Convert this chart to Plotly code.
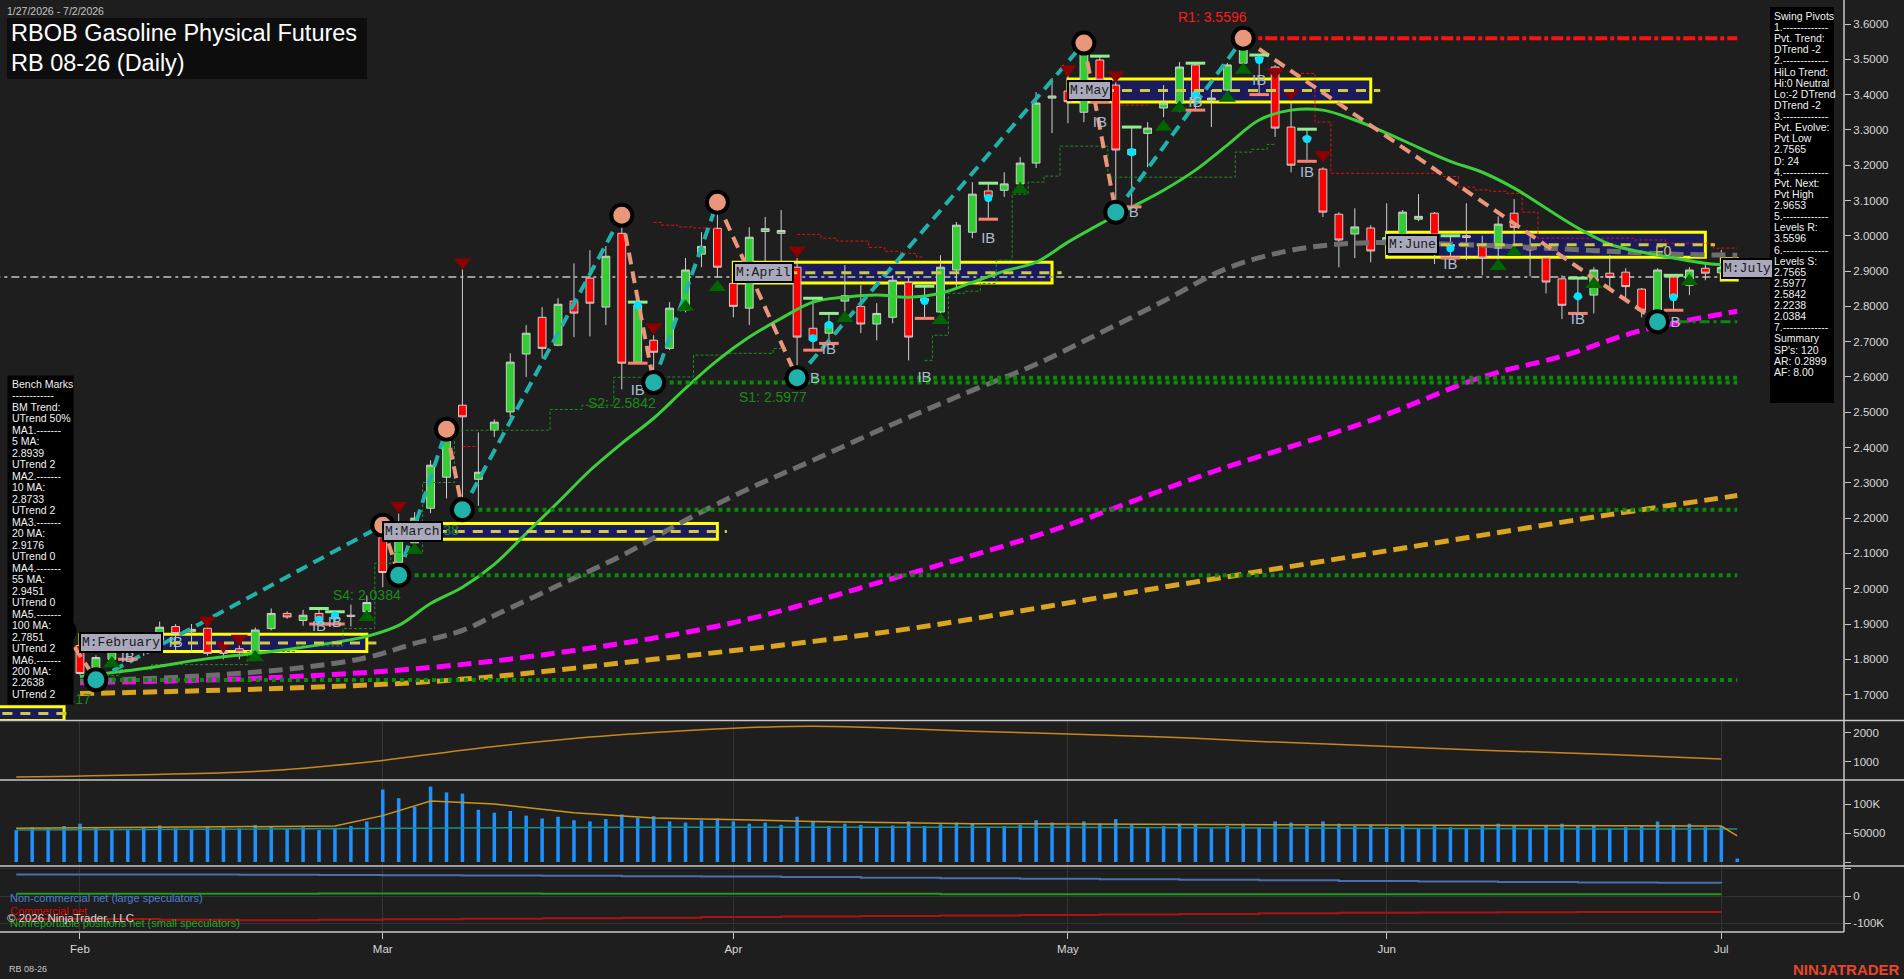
import plotly.graph_objects as go
import pandas as pd

# ---------------- data ----------------
HOLIDAYS = ["2026-02-16", "2026-04-03", "2026-05-25", "2026-06-19"]
DATES = [d.strftime("%Y-%m-%d") for d in pd.bdate_range("2026-01-27", "2026-07-02")
         if d.strftime("%Y-%m-%d") not in HOLIDAYS]

OPEN = [1.80, 1.82, 1.85, 1.84, 1.839, 1.768, 1.80, 1.83, 1.82, 1.854,
        1.893, 1.878, 1.888, 1.823, 1.83, 1.817, 1.887, 1.930, 1.910, 1.930,
        1.915, 1.925, 1.935, 2.145, 2.075, 2.13, 2.228, 2.316, 2.520, 2.31,
        2.449, 2.501, 2.665, 2.769, 2.690, 2.815, 2.880, 2.798, 3.007, 2.642,
        2.704, 2.681, 2.789, 2.948, 3.021, 2.865, 2.795, 3.012, 3.007, 2.911,
        2.738, 2.724, 2.815, 2.800, 2.750, 2.769, 2.868, 2.815, 2.784, 2.903,
        3.010, 3.127, 3.129, 3.147, 3.206, 3.390, 3.410, 3.350, 3.498, 3.427,
        3.230, 3.290, 3.362, 3.376, 3.484, 3.385, 3.413, 3.489, 3.500, 3.478,
        3.308, 3.280, 3.189, 3.061, 3.005, 3.022, 2.980, 2.996, 3.047, 3.064,
        2.970, 3.000, 2.973, 2.965, 3.064, 2.970, 2.937, 2.878, 2.830, 2.832,
        2.894, 2.897, 2.849, 2.769, 2.883, 2.860, 2.908, 2.895, 2.900]
HIGH = [1.83, 1.86, 1.87, 1.88, 1.87, 1.811, 1.84, 1.845, 1.85, 1.907,
        1.90, 1.90, 1.919, 1.84, 1.86, 1.89, 1.944, 1.936, 1.94, 1.944,
        1.935, 1.955, 1.981, 2.18, 2.213, 2.217, 2.364, 2.452, 2.905, 2.443,
        2.48, 2.667, 2.747, 2.798, 2.823, 2.922, 2.959, 2.971, 3.058, 2.812,
        2.718, 2.812, 2.937, 3.010, 3.095, 2.925, 3.024, 3.053, 3.073, 2.937,
        2.823, 2.780, 2.917, 2.860, 2.809, 2.888, 2.882, 2.857, 2.945, 3.039,
        3.152, 3.149, 3.180, 3.223, 3.407, 3.447, 3.461, 3.546, 3.509, 3.461,
        3.308, 3.322, 3.427, 3.492, 3.489, 3.413, 3.490, 3.5596, 3.512, 3.484,
        3.379, 3.302, 3.194, 3.067, 3.078, 3.030, 3.092, 3.073, 3.118, 3.067,
        3.000, 3.092, 3.000, 3.055, 3.104, 2.996, 2.940, 2.888, 2.880, 2.911,
        2.945, 2.908, 2.852, 2.908, 2.888, 2.911, 2.925, 2.960, 2.940]
LOW = [1.78, 1.80, 1.82, 1.83, 1.755, 1.742, 1.79, 1.80, 1.81, 1.834,
       1.825, 1.82, 1.811, 1.80, 1.80, 1.80, 1.882, 1.915, 1.895, 1.90,
       1.90, 1.893, 1.933, 2.004, 2.0384, 2.10, 2.214, 2.256, 2.2238, 2.235,
       2.43, 2.486, 2.60, 2.653, 2.687, 2.713, 2.715, 2.747, 2.565, 2.639,
       2.5842, 2.676, 2.783, 2.911, 2.883, 2.769, 2.747, 2.874, 2.925, 2.5977,
       2.676, 2.695, 2.766, 2.724, 2.704, 2.752, 2.647, 2.766, 2.781, 2.854,
       2.993, 3.047, 3.110, 3.121, 3.192, 3.291, 3.319, 3.322, 3.38, 3.067,
       3.082, 3.194, 3.336, 3.350, 3.356, 3.308, 3.385, 3.461, 3.400, 3.280,
       3.180, 3.211, 3.053, 2.911, 2.937, 2.925, 2.950, 2.960, 3.041, 2.920,
       2.937, 2.931, 2.888, 2.925, 2.975, 2.885, 2.837, 2.764, 2.780, 2.780,
       2.851, 2.817, 2.769, 2.7565, 2.789, 2.832, 2.874, 2.870, 2.870]
CLOSE = [1.82, 1.85, 1.84, 1.86, 1.760, 1.805, 1.83, 1.82, 1.84, 1.891,
         1.873, 1.885, 1.817, 1.817, 1.82, 1.883, 1.930, 1.920, 1.925, 1.910,
         1.920, 1.922, 1.961, 2.046, 2.137, 2.20, 2.350, 2.420, 2.487, 2.33,
         2.472, 2.642, 2.724, 2.681, 2.806, 2.781, 2.809, 2.942, 2.639, 2.803,
         2.670, 2.795, 2.903, 2.970, 2.911, 2.800, 2.996, 3.020, 3.015, 2.713,
         2.704, 2.752, 2.830, 2.750, 2.780, 2.874, 2.713, 2.822, 2.911, 3.030,
         3.118, 3.110, 3.147, 3.206, 3.376, 3.396, 3.380, 3.518, 3.441, 3.243,
         3.245, 3.305, 3.376, 3.478, 3.384, 3.390, 3.484, 3.555, 3.505, 3.305,
         3.200, 3.272, 3.067, 2.988, 3.025, 2.957, 2.995, 3.067, 3.055, 3.002,
         2.975, 2.995, 2.937, 3.033, 3.024, 2.960, 2.869, 2.803, 2.825, 2.903,
         2.882, 2.856, 2.789, 2.903, 2.826, 2.903, 2.894, 2.910, 2.884]
LAST_PRICE = 2.883

# moving averages (bar index, value)
MA20_IDX = [4, 8, 12, 16, 20, 22, 24, 26, 28, 30, 32, 34, 36, 38, 40, 42, 44, 46, 48, 50,
            52, 54, 56, 58, 60, 62, 64, 66, 68, 70, 72, 74, 76, 78, 80, 82, 84, 86, 88, 90,
            92, 94, 96, 98, 100, 102, 104, 106, 108]
MA20_VAL = [1.751, 1.774, 1.802, 1.822, 1.848, 1.865, 1.896, 1.958, 2.004, 2.069, 2.157, 2.245,
            2.335, 2.412, 2.483, 2.568, 2.647, 2.713, 2.766, 2.812, 2.826, 2.832, 2.826, 2.837,
            2.868, 2.900, 2.925, 2.982, 3.033, 3.081, 3.129, 3.186, 3.257, 3.328, 3.356, 3.356,
            3.328, 3.291, 3.250, 3.211, 3.180, 3.135, 3.078, 3.022, 2.976, 2.954, 2.937, 2.922,
            2.915]
MA55_IDX = [4, 12, 18, 22, 25, 28, 30, 34, 38, 42, 46, 50, 55, 60, 64, 68, 72, 76, 80, 84,
            88, 92, 96, 100, 104, 108]
MA55_VAL = [1.738, 1.754, 1.777, 1.805, 1.845, 1.882, 1.924, 2.009, 2.094, 2.194, 2.284, 2.364,
            2.466, 2.562, 2.636, 2.724, 2.815, 2.908, 2.959, 2.979, 2.979, 2.973, 2.965, 2.956,
            2.948, 2.945]
MA100_IDX = [4, 15, 26, 35, 45, 55, 65, 75, 85, 92, 97, 102, 108]
MA100_VAL = [1.734, 1.746, 1.777, 1.825, 1.904, 2.029, 2.165, 2.330, 2.477, 2.600, 2.659, 2.732,
             2.786]
MA200_IDX = [4, 26, 40, 55, 70, 85, 100, 108]
MA200_VAL = [1.703, 1.737, 1.800, 1.880, 1.990, 2.100, 2.210, 2.264]

# swing pivots
SWING_IDX = [3, 5, 23, 24, 27, 28, 38, 40, 44, 49, 67, 69, 77, 103]
SWING_PX = [1.88, 1.742, 2.18, 2.0384, 2.452, 2.2238, 3.058, 2.5842, 3.095, 2.5977, 3.546,
            3.067, 3.5596, 2.7565]
SUPPORT_LEVELS = [1.7417, 2.0384, 2.2238, 2.5842, 2.5977]
SUPPORT_START = [5, 24, 28, 40, 49]
SUPPORT_NAMES = ["S5", "S4", "S3", "S2", "S1"]
R1_LEVEL, R1_START = 3.5596, 77
PIVOT_LOW, PIVOT_LOW_START = 2.7565, 103

# monthly boxes: first bar, last bar, low, high, label
MONTH_BOX_START = [-2, 4, 23, 45, 66, 86, 107]
MONTH_BOX_END = [3.0, 22, 44, 65, 85, 106, 108]
MONTH_BOX_LOW = [1.627, 1.822, 2.140, 2.866, 3.379, 2.939, 2.875]
MONTH_BOX_HIGH = [1.666, 1.871, 2.185, 2.925, 3.444, 3.010, 2.935]
MONTH_BOX_LABEL = ["", "M:February", "M:March", "M:April", "M:May", "M:June", "M:July"]

# markers
DN_TRI_IDX = [12, 13, 14, 24, 28, 40, 49, 66, 69, 79, 80, 82]
DN_TRI_PX = [1.910, 1.839, 1.859, 2.236, 2.925, 2.741, 2.959, 3.472, 3.455, 3.464, 3.404, 3.229]
UP_TRI_IDX = [6, 15, 22, 25, 42, 44, 52, 58, 63, 72, 73, 76, 77, 93, 94, 99, 105]
UP_TRI_PX = [1.788, 1.805, 1.919, 2.109, 2.798, 2.854, 2.766, 2.761, 3.132, 3.308, 3.362, 3.39,
             3.47, 2.914, 2.953, 2.863, 2.871]
IB_IDX = [7, 19, 20, 39, 50, 51, 57, 61, 68, 70, 74, 78, 81, 90, 98, 104]
IB_DOT = [1.84, 1.912, 1.924, 2.803, 2.71, 2.747, 2.815, 3.107, 3.40, 3.237, 3.399, 3.498,
          3.274, 2.965, 2.829, 2.826]
IB_TEXT_IDX = [7, 10, 19, 20, 39, 50, 51, 57, 61, 68, 70, 74, 78, 81, 90, 98, 104]
IB_TEXT_PX = [1.802, 1.845, 1.890, 1.902, 2.559, 2.593, 2.676, 2.596, 2.990, 3.319, 3.064,
              3.376, 3.438, 3.177, 2.917, 2.761, 2.752]

# trailing step lines (start bar, values)
GREEN_STEP_START = [5, 57]
GREEN_STEP_VALS = [
    [1.754, 1.754, 1.771, 1.771, 1.785, 1.785, 1.785, 1.785, 1.785, 1.785, 1.822, 1.822, 1.822,
     1.838, 1.838, 1.838, 1.887, 1.887, 2.072, 2.103, 2.103, 2.301, 2.301, 2.449, 2.449, 2.449,
     2.449, 2.449, 2.449, 2.508, 2.508, 2.52, 2.52, 2.599, 2.599, 2.599, 2.60, 2.60, 2.662,
     2.662, 2.667, 2.667, 2.667, 2.681],
    [2.647, 2.718, 2.837, 2.843, 2.865, 2.931, 3.118, 3.152, 3.169, 3.254, 3.254, 3.254, 3.166,
     3.166, 3.166, 3.166, 3.166, 3.166, 3.166, 3.166, 3.237, 3.245, 3.259]]
RED_STEP_START = [28, 40, 49, 69, 80]
RED_STEP_VALS = [
    [2.403, 2.403],
    [3.038, 3.03, 3.025, 3.022, 3.022],
    [3.004, 3.004, 2.993, 2.985, 2.985, 2.967, 2.956, 2.95, 2.94],
    [3.37, 3.37, 3.37],
    [3.46, 3.46, 3.322, 3.177, 3.177, 3.177, 3.177, 3.177, 3.177, 3.177, 3.168, 3.138, 3.13,
     3.126, 3.12, 3.067, 2.993, 2.993, 2.993, 2.993, 2.993, 2.993, 2.988, 2.988, 2.979, 2.979,
     2.979, 2.965, 2.965]]

# lower panels
PANEL2_IDX = [0, 8, 16, 23, 28, 34, 40, 45, 50, 55, 60, 66, 72, 78, 85, 92, 100, 107]
PANEL2_VAL = [480, 560, 700, 1050, 1400, 1750, 2000, 2150, 2220, 2150, 2050, 1950, 1850, 1700,
              1550, 1400, 1250, 1100]
VOLUME = [55000, 60000, 58000, 62000, 66000, 60000, 57000, 55000, 60000, 63000,
          58000, 56000, 62000, 60000, 58000, 64000, 61000, 57000, 60000, 55000,
          58000, 62000, 70000, 125000, 110000, 95000, 130000, 120000, 118000, 90000,
          85000, 88000, 80000, 75000, 78000, 72000, 70000, 74000, 82000, 76000,
          79000, 70000, 68000, 72000, 75000, 70000, 66000, 68000, 64000, 78000,
          70000, 62000, 66000, 64000, 60000, 63000, 70000, 62000, 65000, 68000,
          66000, 60000, 62000, 64000, 72000, 68000, 63000, 70000, 66000, 74000,
          64000, 60000, 62000, 66000, 64000, 58000, 62000, 66000, 60000, 70000,
          68000, 62000, 70000, 66000, 62000, 64000, 60000, 63000, 58000, 62000,
          60000, 58000, 62000, 66000, 62000, 58000, 64000, 66000, 62000, 64000,
          58000, 60000, 62000, 70000, 64000, 66000, 60000, 62000, 6000]
VOL_AVG_IDX = [0, 10, 20, 23, 26, 30, 35, 40, 50, 60, 70, 80, 90, 100, 107, 108]
VOL_AVG_VAL = [58000, 60000, 62000, 80000, 105000, 100000, 85000, 76000, 70000, 66000, 65000,
               65000, 63000, 63000, 62000, 45000]
OI_IDX = [0, 20, 40, 60, 80, 100, 108]
OI_VAL = [55000, 57000, 60000, 60000, 58000, 57000, 57000]

COT_IDX = [0, 4, 9, 14, 19, 23, 28, 33, 38, 43, 48, 53, 58, 63, 68, 73, 78, 83, 88, 93, 98,
           103, 107]
COT_NONCOMM = [80000, 80000, 80000, 79000, 78000, 77000, 76000, 75000, 73000, 72000, 70000,
               68000, 66000, 64000, 62000, 60000, 58000, 56000, 54000, 52000, 50000, 49000,
               48000]
COT_COMM = [-85000, -85000, -88000, -90000, -88000, -86000, -84000, -82000, -80000, -78000,
            -76000, -74000, -72000, -70000, -68000, -66000, -64000, -62000, -61000, -60000,
            -59000, -59000, -59000]
COT_SMALL = [8000, 8000, 8000, 8000, 9000, 9000, 9000, 8000, 8000, 8000, 8000, 8000, 7000,
             7000, 7000, 7000, 7000, 7000, 7000, 7000, 7000, 7000, 7000]

BENCH_LINES = ["Bench Marks", "------------", "BM Trend:", "UTrend 50%", "MA1.-------", "5 MA:",
               "2.8939", "UTrend 2", "MA2.-------", "10 MA:", "2.8733", "UTrend 2",
               "MA3.-------", "20 MA:", "2.9176", "UTrend 0", "MA4.-------", "55 MA:", "2.9451",
               "UTrend 0", "MA5.-------", "100 MA:", "2.7851", "UTrend 2", "MA6.-------",
               "200 MA:", "2.2638", "UTrend 2"]
SWING_LINES = ["Swing Pivots", "1.-------------", "Pvt. Trend:", "DTrend -2", "2.-------------",
               "HiLo Trend:", "Hi:0 Neutral", "Lo:-2 DTrend", "DTrend -2", "3.-------------",
               "Pvt. Evolve:", "Pvt Low", "2.7565", "D: 24", "4.-------------", "Pvt. Next:",
               "Pvt High", "2.9653", "5.-------------", "Levels R:", "3.5596", "6.-------------",
               "Levels S:", "2.7565", "2.5977", "2.5842", "2.2238", "2.0384", "7.-------------",
               "Summary", "SP's: 120", "AR: 0.2899", "AF: 8.00"]

MONTH_TICKS = ["2026-02-02", "2026-03-02", "2026-04-01", "2026-05-01", "2026-06-01", "2026-07-01"]
MONTH_TEXT = ["Feb", "Mar", "Apr", "May", "Jun", "Jul"]

# ---------------- layout helpers ----------------
W, H = 1844.0, 932.0          # plot area in pixels
BG = "#1e1e1e"
FONT = "Liberation Sans, Arial, sans-serif"
MONO = "Liberation Mono, Courier New, monospace"
N = len(DATES)


def px(x):
    return x / W


def py(y):
    return 1 - y / H


def D(i):
    return DATES[i]


fig = go.Figure()

# candles
fig.add_trace(go.Candlestick(
    x=DATES, open=OPEN, high=HIGH, low=LOW, close=CLOSE,
    increasing=dict(fillcolor="#32cd32", line=dict(color="#cfcfcf", width=1)),
    decreasing=dict(fillcolor="#ff0000", line=dict(color="#cfcfcf", width=1)),
    whiskerwidth=0, showlegend=False, xaxis="x", yaxis="y", hoverinfo="skip"))

# step lines
for start, vals in zip(GREEN_STEP_START, GREEN_STEP_VALS):
    fig.add_trace(go.Scatter(x=[D(start + k) for k in range(len(vals))], y=vals, mode="lines",
                             line=dict(color="#1f8f1f", width=1, dash="3px,2px", shape="hvh"),
                             showlegend=False, hoverinfo="skip"))
for start, vals in zip(RED_STEP_START, RED_STEP_VALS):
    fig.add_trace(go.Scatter(x=[D(start + k) for k in range(len(vals))], y=vals, mode="lines",
                             line=dict(color="#e01010", width=1, dash="3px,2px", shape="hvh"),
                             showlegend=False, hoverinfo="skip"))

# moving averages
fig.add_trace(go.Scatter(x=[D(i) for i in MA200_IDX], y=MA200_VAL, mode="lines",
                         line=dict(color="#daa520", width=5, dash="14px,7px", shape="spline"),
                         showlegend=False, hoverinfo="skip"))
fig.add_trace(go.Scatter(x=[D(i) for i in MA100_IDX], y=MA100_VAL, mode="lines",
                         line=dict(color="#ff00ff", width=5, dash="14px,7px", shape="spline"),
                         showlegend=False, hoverinfo="skip"))
fig.add_trace(go.Scatter(x=[D(i) for i in MA55_IDX], y=MA55_VAL, mode="lines",
                         line=dict(color="#6e6e6e", width=5, dash="14px,7px", shape="spline"),
                         showlegend=False, hoverinfo="skip"))
fig.add_trace(go.Scatter(x=[D(i) for i in MA20_IDX], y=MA20_VAL, mode="lines",
                         line=dict(color="#3ccf3c", width=3, shape="spline"),
                         showlegend=False, hoverinfo="skip"))

# support / resistance levels
for lvl, st in zip(SUPPORT_LEVELS, SUPPORT_START):
    fig.add_trace(go.Scatter(x=[D(st), D(N - 1)], y=[lvl, lvl], mode="lines",
                             line=dict(color="#0a8a0a", width=4, dash="4px,4px"),
                             showlegend=False, hoverinfo="skip"))
fig.add_trace(go.Scatter(x=[D(PIVOT_LOW_START), D(N - 1)], y=[PIVOT_LOW, PIVOT_LOW],
                         mode="lines", line=dict(color="#0a8a0a", width=3,
                                                 dash="10px,4px,3px,4px"),
                         showlegend=False, hoverinfo="skip"))
fig.add_trace(go.Scatter(x=[D(R1_START), D(N - 1)], y=[R1_LEVEL, R1_LEVEL], mode="lines",
                         line=dict(color="#ff1010", width=4, dash="12px,3px,4px,3px"),
                         showlegend=False, hoverinfo="skip"))

# swing legs
for k in range(len(SWING_IDX) - 1):
    up = SWING_PX[k + 1] > SWING_PX[k]
    fig.add_trace(go.Scatter(x=[D(SWING_IDX[k]), D(SWING_IDX[k + 1])],
                             y=[SWING_PX[k], SWING_PX[k + 1]], mode="lines",
                             line=dict(color="#20b2aa" if up else "#e9967a", width=4,
                                       dash="12px,7px"),
                             showlegend=False, hoverinfo="skip"))

# markers
fig.add_trace(go.Scatter(x=[D(i) for i in DN_TRI_IDX], y=DN_TRI_PX, mode="markers",
                         marker=dict(symbol="triangle-down", size=15, color="#8b0000"),
                         showlegend=False, hoverinfo="skip"))
fig.add_trace(go.Scatter(x=[D(i) for i in UP_TRI_IDX], y=UP_TRI_PX, mode="markers",
                         marker=dict(symbol="triangle-up", size=15, color="#006400"),
                         showlegend=False, hoverinfo="skip"))
fig.add_trace(go.Scatter(x=[D(i) for i in IB_IDX], y=[HIGH[i] for i in IB_IDX], mode="markers",
                         marker=dict(symbol="line-ew", size=14,
                                     line=dict(color="#90ee90", width=3)),
                         showlegend=False, hoverinfo="skip"))
fig.add_trace(go.Scatter(x=[D(i) for i in IB_IDX], y=[LOW[i] for i in IB_IDX], mode="markers",
                         marker=dict(symbol="line-ew", size=14,
                                     line=dict(color="#fa8072", width=3)),
                         showlegend=False, hoverinfo="skip"))
fig.add_trace(go.Scatter(x=[D(i) for i in IB_IDX], y=IB_DOT, mode="markers",
                         marker=dict(symbol="circle", size=8, color="#00e5ff"),
                         showlegend=False, hoverinfo="skip"))
fig.add_trace(go.Scatter(x=[D(i) for i in IB_TEXT_IDX], y=IB_TEXT_PX, mode="text",
                         text=["IB"] * len(IB_TEXT_IDX),
                         textfont=dict(family=FONT, size=15, color="#a9bcd0"),
                         showlegend=False, hoverinfo="skip"))

# swing circles
sw_col = ["#e9967a" if (k > 0 and SWING_PX[k] > SWING_PX[k - 1]) or
          (k == 0 and SWING_PX[0] > SWING_PX[1]) else "#20b2aa" for k in range(len(SWING_IDX))]
fig.add_trace(go.Scatter(x=[D(i) for i in SWING_IDX], y=SWING_PX, mode="markers",
                         marker=dict(symbol="circle", size=21, color=sw_col,
                                     line=dict(color="#000000", width=4)),
                         showlegend=False, hoverinfo="skip"))

# ---- lower panels ----
fig.add_trace(go.Scatter(x=[D(i) for i in PANEL2_IDX], y=PANEL2_VAL, mode="lines",
                         line=dict(color="#c8861e", width=1.5, shape="spline"),
                         xaxis="x2", yaxis="y2", showlegend=False, hoverinfo="skip"))
fig.add_trace(go.Bar(x=DATES, y=VOLUME, width=0.22, marker=dict(color="#1e90ff", line_width=0),
                     xaxis="x3", yaxis="y3", showlegend=False, hoverinfo="skip"))
fig.add_trace(go.Scatter(x=[D(i) for i in OI_IDX], y=OI_VAL, mode="lines",
                         line=dict(color="#1a8f8f", width=1.5),
                         xaxis="x3", yaxis="y3", showlegend=False, hoverinfo="skip"))
fig.add_trace(go.Scatter(x=[D(i) for i in VOL_AVG_IDX], y=VOL_AVG_VAL, mode="lines",
                         line=dict(color="#c8961e", width=1.5),
                         xaxis="x3", yaxis="y3", showlegend=False, hoverinfo="skip"))
for vals, col in [(COT_NONCOMM, "#4a6fb0"), (COT_SMALL, "#1f9a1f"), (COT_COMM, "#b01010")]:
    fig.add_trace(go.Scatter(x=[D(i) for i in COT_IDX], y=vals, mode="lines",
                             line=dict(color=col, width=2, shape="hv"),
                             xaxis="x4", yaxis="y4", showlegend=False, hoverinfo="skip"))

# ---------------- shapes ----------------
shapes = []
for s, e, lo, hi in zip(MONTH_BOX_START, MONTH_BOX_END, MONTH_BOX_LOW, MONTH_BOX_HIGH):
    shapes.append(dict(type="rect", xref="x", yref="y", x0=s, x1=e, y0=lo, y1=hi,
                       fillcolor="#1a1a5c", line=dict(color="#ffff00", width=3), layer="below"))
    mid = (lo + hi) / 2
    shapes.append(dict(type="line", xref="x", yref="y", x0=s, x1=e + 0.6, y0=mid, y1=mid,
                       line=dict(color="#cccc44", width=3, dash="10px,8px"), layer="above"))
# last price line across the chart
shapes.append(dict(type="line", xref="x", yref="y", x0=-1.5, x1=N - 1, y0=LAST_PRICE,
                   y1=LAST_PRICE, line=dict(color="#9a9a9a", width=2, dash="8px,4px,3px,4px"),
                   layer="below"))

# panel separators & axis line
for yy in [720.5, 780, 866]:
    shapes.append(dict(type="line", xref="paper", yref="paper", x0=0, x1=1904 / W,
                       y0=py(yy), y1=py(yy), line=dict(color="#c8c8c8", width=1.5)))
shapes.append(dict(type="line", xref="paper", yref="paper", x0=0, x1=1, y0=0, y1=0,
                   line=dict(color="#c8c8c8", width=1.5)))
shapes.append(dict(type="line", xref="paper", yref="paper", x0=1, x1=1, y0=0, y1=1,
                   line=dict(color="#c8c8c8", width=1.5)))

# title / swing info boxes
shapes.append(dict(type="rect", xref="paper", yref="paper", x0=px(7), x1=px(367),
                   y0=py(79), y1=py(18), fillcolor="#0d0d0d", line_width=0, layer="above"))
shapes.append(dict(type="rect", xref="paper", yref="paper", x0=px(1770), x1=px(1834),
                   y0=py(403), y1=py(7), fillcolor="#000000", line_width=0, layer="above"))

# ---------------- annotations ----------------
ann = []


def text(x, y, t, size=11, color="#f0f0f0", xanchor="left", family=FONT, **kw):
    ann.append(dict(x=px(x), y=py(y), xref="paper", yref="paper", text=t, showarrow=False,
                    xanchor=xanchor, yanchor="middle", font=dict(family=family, size=size,
                                                                  color=color), **kw))


# level labels (partly hidden behind boxes, as in the original)
for name, lvl, xc, yc in zip(SUPPORT_NAMES, SUPPORT_LEVELS, [57, 367, 425, 622, 773],
                             [699, 595, 530, 403, 397]):
    text(xc, yc, "%s: %.4f" % (name, lvl), size=14, color="#1a8c1a", xanchor="center")
text(1212, 17, "R1: %.4f" % R1_LEVEL, size=14, color="#ff1a1a", xanchor="center")
text(1663, 251, "F0", size=14, color="#c8c85a", xanchor="center")

# bench marks panel (black box drawn as annotation so it covers the S5 label)
ann.append(dict(x=px(7), y=py(375), xref="paper", yref="paper", text=" ", showarrow=False,
                xanchor="left", yanchor="top", width=65, height=328, bgcolor="#000000",
                borderpad=0, font=dict(size=2)))
for k, t in enumerate(BENCH_LINES):
    text(10, 384 + 11.48 * k, t, size=10.5)

text(5, 11, "1/27/2026 - 7/2/2026", size=10.5, color="#c4c4c4")
text(9, 33, "RBOB Gasoline Physical Futures", size=23.5, color="#ffffff")
text(9, 63, "RB 08-26 (Daily)", size=23.5, color="#ffffff")
for k, t in enumerate(SWING_LINES):
    text(1772, 16 + 11.12 * k, t, size=10.5)

# month labels
for s, lo, hi, lab in zip(MONTH_BOX_START, MONTH_BOX_LOW, MONTH_BOX_HIGH, MONTH_BOX_LABEL):
    if not lab:
        continue
    yv = (lo + hi) / 2 if lab != "M:July" else 2.908
    ann.append(dict(x=s - 0.05, y=yv, xref="x", yref="y",
                    text=lab, showarrow=False, xanchor="left", yanchor="middle",
                    font=dict(family=MONO, size=13, color="#1a1a1a"), bgcolor="#a9a9bb",
                    bordercolor="#000000", borderwidth=2, borderpad=1))

# COT legend + footer
text(8, 898, "Non-commercial net (large speculators)", size=11, color="#4f7fd8")
text(8, 911, "Commercial net", size=11, color="#e00000")
text(8, 923, "Nonreportable positions net (small speculators)", size=11, color="#22aa22")
text(5, 918, "\u00a9 2026 NinjaTrader, LLC", size=11.5, color="#d8d8d8")
text(7, 969, "RB 08-26", size=9, color="#c8c8c8")
text(1902, 969, "<b>NINJATRADER</b>", size=15, color="#e8452c", xanchor="right")

# ---------------- axes ----------------
xr = [-1.02, 114.7]
common_x = dict(type="category", categoryorder="array", categoryarray=DATES, range=xr,
                showline=False, zeroline=False, tickvals=MONTH_TICKS, ticktext=MONTH_TEXT,
                gridcolor="#333333", tickfont=dict(family=FONT, size=11.5, color="#d8d8d8"))
tickfont = dict(family=FONT, size=11.5, color="#d8d8d8")
yax = dict(side="right", showline=False, zeroline=False, ticks="outside", ticklen=6,
           tickcolor="#c8c8c8", tickfont=tickfont, showgrid=False)

fig.update_layout(
    width=1904, height=979, paper_bgcolor=BG, plot_bgcolor=BG,
    margin=dict(l=0, r=60, t=0, b=47),
    showlegend=False, hovermode=False,
    shapes=shapes, annotations=ann,
    xaxis=dict(common_x, domain=[0, 1], anchor="y", showticklabels=False, showgrid=False,
               rangeslider=dict(visible=False)),
    xaxis2=dict(common_x, domain=[0, 1], anchor="y2", matches="x", showticklabels=False,
                showgrid=True),
    xaxis3=dict(common_x, domain=[0, 1], anchor="y3", matches="x", showticklabels=False,
                showgrid=True),
    xaxis4=dict(common_x, domain=[0, 1], anchor="y4", matches="x", showticklabels=True,
                showgrid=True, ticks="outside", ticklen=6, tickcolor="#c8c8c8"),
    yaxis=dict(yax, domain=[1 - 720.5 / H, 1], anchor="x", range=[1.6267, 3.668],
               tickvals=[1.7 + 0.1 * k for k in range(20)], tickformat=".4f"),
    yaxis2=dict(yax, domain=[1 - 780 / H, 1 - 720.5 / H], anchor="x2", range=[379, 2414],
                tickvals=[1000, 2000], ticktext=["1000", "2000"]),
    yaxis3=dict(yax, domain=[1 - 866 / H, 1 - 780 / H], anchor="x3", range=[-6900, 141400],
                tickvals=[0, 50000, 100000], ticktext=["", "50000", "100K"]),
    yaxis4=dict(yax, domain=[0, 1 - 866 / H], anchor="x4", range=[-133000, 111000],
                tickvals=[-100000, 0, 100000], ticktext=["-100K", "0", ""], showgrid=True,
                gridcolor="#333333"),
)

fig.write_html("out.html")
